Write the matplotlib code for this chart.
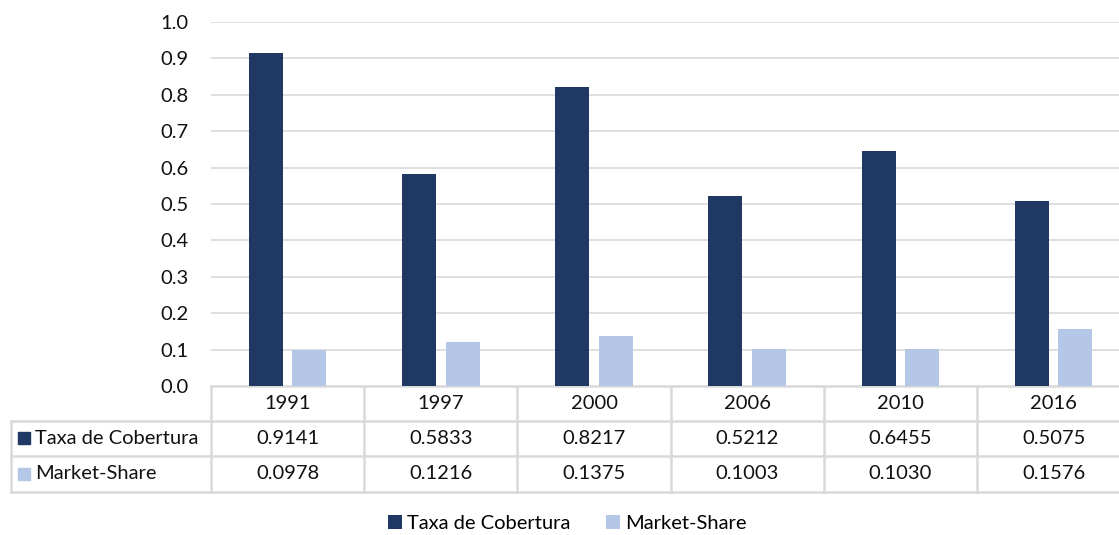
import matplotlib
matplotlib.use('Agg')
import matplotlib.pyplot as plt
from matplotlib.patches import Rectangle
import numpy as np

plt.rcParams['font.family'] = ['Lato', 'DejaVu Sans']

# chart data
years = ['1991', '1997', '2000', '2006', '2010', '2016']
taxa_cobertura = [0.9141, 0.5833, 0.8217, 0.5212, 0.6455, 0.5075]
market_share = [0.0978, 0.1216, 0.1375, 0.1003, 0.1030, 0.1576]
series_names = ['Taxa de Cobertura', 'Market-Share']

DARK = '#203864'
LIGHT = '#B4C7E7'
GRID = '#d9d9d9'
TXT = '#111111'
FS = 14.5

W, H = 1119, 535
fig = plt.figure(figsize=(W / 100, H / 100), dpi=100)

# plot area in pixel terms (left, top, right, bottom)
left, top, bottom = 211, 22, 386
col_w = 153.2
right = left + col_w * len(years)
ax = fig.add_axes([left / W, (H - bottom) / H, (right - left) / W, (bottom - top) / H])

x = np.arange(len(years))
bw = 0.222
off = 0.142
ax.bar(x - off, taxa_cobertura, bw, color=DARK, label=series_names[0], zorder=3)
ax.bar(x + off, market_share, bw, color=LIGHT, label=series_names[1], zorder=3)

ax.set_xlim(-0.5, len(years) - 0.5)
ax.set_ylim(0, 1.0)
ax.set_yticks(np.arange(0, 1.01, 0.1))
ax.set_yticklabels([f'{v:.1f}' for v in np.arange(0, 1.01, 0.1)])
ax.tick_params(axis='y', length=0, pad=16, labelsize=FS, labelcolor=TXT)
ax.set_xticks([])
for s in ax.spines.values():
    s.set_visible(False)
ax.yaxis.grid(True, color=GRID, linewidth=1.2, zorder=0)

# data table under the plot, drawn in pixel coords
tax = fig.add_axes([0, 0, 1, 1], zorder=-1)
tax.set_xlim(0, W)
tax.set_ylim(H, 0)
tax.axis('off')

row_y = [386, 420.5, 456, 491.5]
tab_left = 11
lw = 1.8
tax.plot([left, W], [row_y[0], row_y[0]], color=GRID, lw=lw)
for yy in row_y[1:]:
    tax.plot([tab_left, W], [yy, yy], color=GRID, lw=lw)
tax.plot([tab_left, tab_left], [row_y[1], row_y[3]], color=GRID, lw=lw)
for i in range(len(years)):
    xx = left + i * col_w
    tax.plot([xx, xx], [row_y[0], row_y[3]], color=GRID, lw=lw)

for i, yr in enumerate(years):
    cx = left + (i + 0.5) * col_w
    tax.text(cx, (row_y[0] + row_y[1]) / 2, yr, ha='center', va='center', fontsize=FS, color=TXT)
    tax.text(cx, (row_y[1] + row_y[2]) / 2, f'{taxa_cobertura[i]:.4f}', ha='center', va='center',
             fontsize=FS, color=TXT)
    tax.text(cx, (row_y[2] + row_y[3]) / 2, f'{market_share[i]:.4f}', ha='center', va='center',
             fontsize=FS, color=TXT)

for r, (name, col) in enumerate(zip(series_names, [DARK, LIGHT])):
    cy = (row_y[r + 1] + row_y[r + 2]) / 2
    tax.add_patch(Rectangle((18, cy - 6), 12, 12, color=col))
    tax.text(35, cy, name, ha='left', va='center', fontsize=FS, color=TXT)

# legend at the bottom
handles, labels = ax.get_legend_handles_labels()
fig.legend(handles, labels, loc='center', bbox_to_anchor=(0.507, 0.022), ncol=2, frameon=False,
           fontsize=FS, handlelength=0.7, handleheight=0.7, handletextpad=0.25, columnspacing=1.8)

fig.savefig('out.png', dpi=100)
